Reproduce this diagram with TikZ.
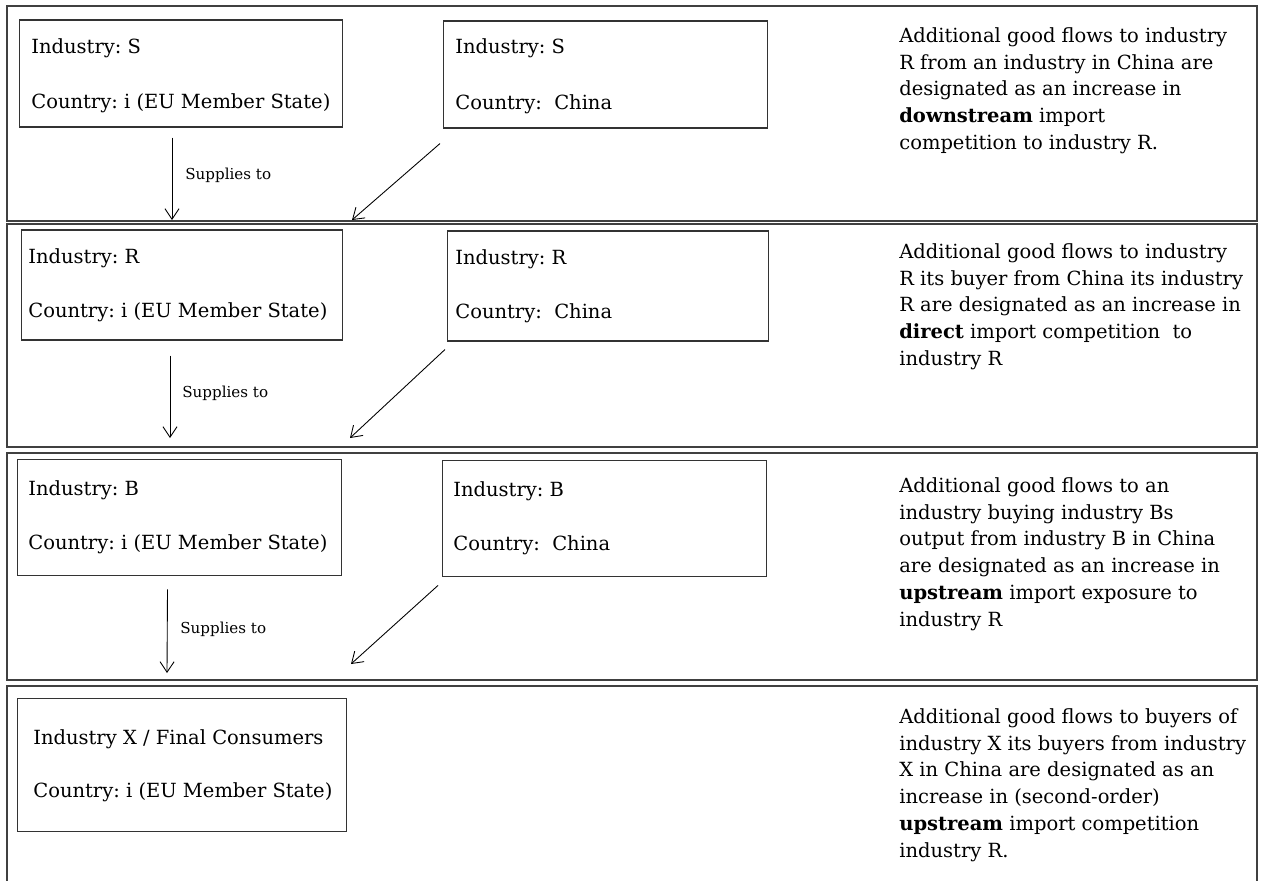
\documentclass[tikz,border=0pt]{standalone}
\usepackage{fontspec}
\setmainfont{DejaVu Serif}
\usetikzlibrary{arrows.meta}
\frenchspacing

\begin{document}
\begin{tikzpicture}[x=0.02cm, y=-0.02cm,
  panel/.style={draw=black!75, line width=1pt},
  box/.style={draw=black!80, line width=0.8pt, inner sep=0pt},
  lbl/.style={anchor=west, inner sep=0pt, font=\fontsize{11.1}{13}\selectfont},
  note/.style={anchor=north west, inner sep=0pt, align=left, font=\fontsize{11.1}{15.3}\selectfont},
  small/.style={anchor=west, inner sep=0pt, font=\fontsize{8.6}{10}\selectfont},
  flow/.style={-{Straight Barb[length=6pt,width=8pt]}, line width=0.5pt}]
\useasboundingbox (0,0) rectangle (1264,880);

% the four panels
\draw[panel] (7,6) rectangle (1257,221);
\draw[panel] (7,224) rectangle (1257,447);
\draw[panel] (7,453) rectangle (1257,680);
\draw[panel] (7,884) -- (7,686) -- (1257,686) -- (1257,884);

% panel 1: industry S
\node[box, minimum width=183.7pt, minimum height=60.7pt] (SEU) at (181,73.5) {};
\node[box, minimum width=184.2pt, minimum height=60.7pt] (SCN) at (605.5,74.5) {};
\node[lbl] (SEUa) at (31,48) {Industry: S};
\node[lbl] (SEUb) at (31,103) {Country: i (EU Member State)};
\node[lbl] (SCNa) at (455,48) {Industry: S};
\node[lbl] (SCNb) at (455,104) {Country:\ \ China};
\node[note] (Snote) at (899,27) {Additional good flows to industry\\
  R from an industry in China are\\
  designated as an increase in\\
  \textbf{downstream} import\\
  competition to industry R.};
\coordinate (Sdown) at (172,220);
\coordinate (Sdiag) at (352,220);
\draw[flow] ([shift={(-9,10)}]SEU.south) -- (Sdown);
\draw[flow] ([shift={(-3,15)}]SCN.south west) -- (Sdiag);
\node[small] (Ssup) at (185,175) {Supplies to};

% panel 2: industry R
\node[box, minimum width=182.5pt, minimum height=62.4pt] (REU) at (182,285) {};
\node[box, minimum width=182.5pt, minimum height=62.4pt] (RCN) at (608,286) {};
\node[lbl] (REUa) at (28,258) {Industry: R};
\node[lbl] (REUb) at (28,312) {Country: i (EU Member State)};
\node[lbl] (RCNa) at (455,259) {Industry: R};
\node[lbl] (RCNb) at (455,313) {Country:\ \ China};
\node[note] (Rnote) at (899,243) {Additional good flows to industry\\
  R its buyer from China its industry\\
  R are designated as an increase in\\
  \textbf{direct} import competition\ \ to\\
  industry R};
\coordinate (Rdown) at (170,438);
\coordinate (Rdiag) at (350,438);
\draw[flow] ([shift={(-12,15)}]REU.south) -- (Rdown);
\draw[flow] ([shift={(-2,8)}]RCN.south west) -- (Rdiag);
\node[small] (Rsup) at (182,393) {Supplies to};

% panel 3: industry B
\node[box, minimum width=184.2pt, minimum height=66.3pt] (BEU) at (179.5,517.5) {};
\node[box, minimum width=184.2pt, minimum height=66.3pt] (BCN) at (604.5,518.5) {};
\node[lbl] (BEUa) at (28,490) {Industry: B};
\node[lbl] (BEUb) at (28,544) {Country: i (EU Member State)};
\node[lbl] (BCNa) at (453,491) {Industry: B};
\node[lbl] (BCNb) at (453,545) {Country:\ \ China};
\node[note] (Bnote) at (899,477) {Additional good flows to an\\
  industry buying industry Bs\\
  output from industry B in China\\
  are designated as an increase in\\
  \textbf{upstream} import exposure to\\
  industry R};
\coordinate (Bdown) at (167,673);
\coordinate (Bdiag) at (351,664);
\draw[flow] ([shift={(-12,13)}]BEU.south) -- (Bdown);
\draw[flow] ([shift={(-4,8)}]BCN.south west) -- (Bdiag);
\node[small] (Bsup) at (180,629) {Supplies to};

% panel 4: industry X
\node[box, minimum width=187.1pt, minimum height=76pt] (XEU) at (182,765) {};
\node[lbl] (XEUa) at (33,739) {Industry X / Final Consumers};
\node[lbl] (XEUb) at (33,792) {Country: i (EU Member State)};
\node[note] (Xnote) at (899,708) {Additional good flows to buyers of\\
  industry X its buyers from industry\\
  X in China are designated as an\\
  increase in (second-order)\\
  \textbf{upstream} import competition\\
  industry R.};
\end{tikzpicture}
\end{document}
